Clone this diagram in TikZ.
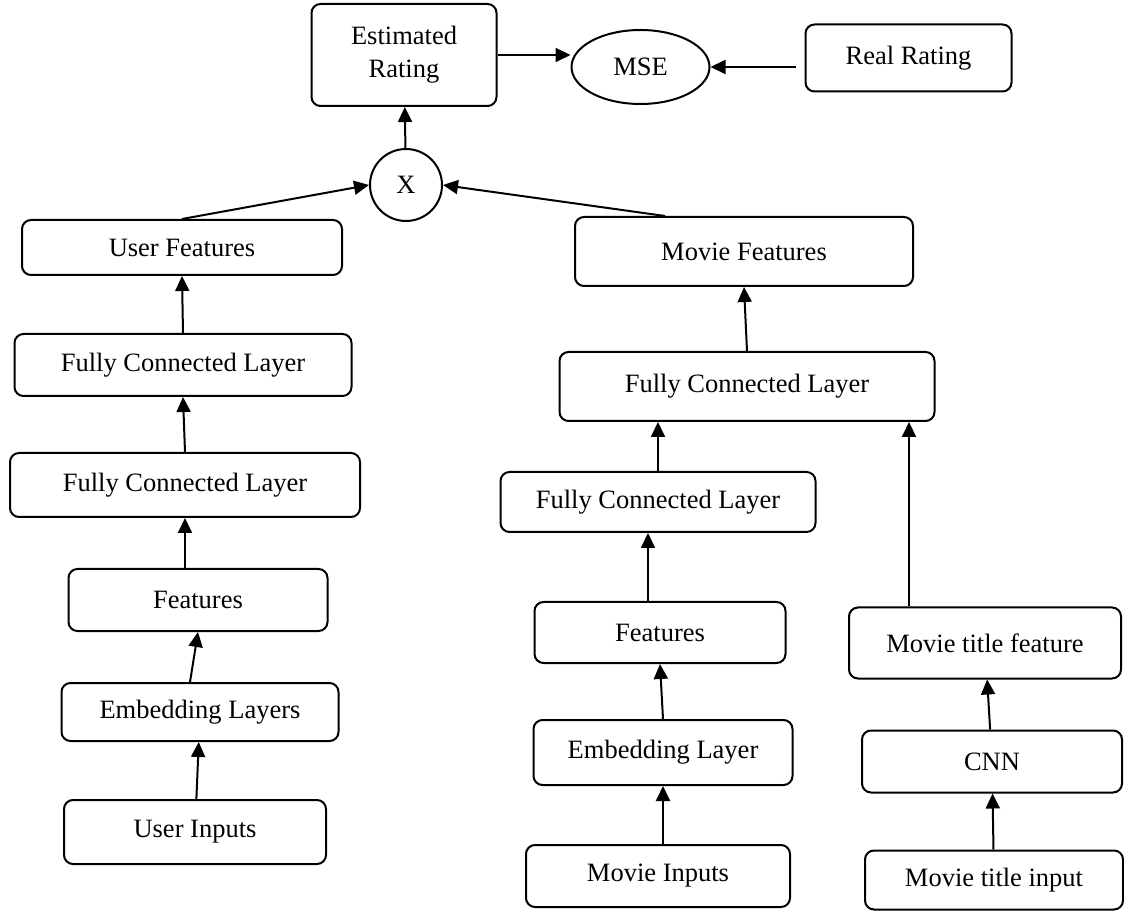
\documentclass[tikz,border=0pt]{standalone}
\usepackage{fontspec}
\setmainfont{Liberation Serif}
\usetikzlibrary{shapes, positioning, arrows.meta}
\tikzset{>={Triangle[width=14pt,length=15pt]}}
\tikzset{blk/.style = {draw, rounded corners = 9pt, line width = 2pt, inner sep = 0pt}}
\tikzset{lnk/.style = {->, line width = 2pt}}

\begin{document}
\begin{tikzpicture}[x = 1pt, y = 1pt]
\fontsize{26.5}{33}\selectfont
\useasboundingbox (0, 0) rectangle (1124, 911);

% user branch
\node (uinp) [blk, minimum width = 262pt, minimum height = 64pt] at (195, 79) {User Inputs};
\node (uemb) [blk, minimum width = 277pt, minimum height = 58pt, above = 57pt of uinp, xshift = 5pt] {Embedding Layers};
\node (ufeat) [blk, minimum width = 259pt, minimum height = 62pt, above = 50pt of uemb, xshift = -2pt] {Features};
\node (ufc2) [blk, minimum width = 350pt, minimum height = 64pt, above = 50pt of ufeat, xshift = -13pt] {Fully Connected Layer};
\node (ufc1) [blk, minimum width = 337pt, minimum height = 62pt, above = 55pt of ufc2, xshift = -2pt] {Fully Connected Layer};
\node (uout) [blk, minimum width = 320pt, minimum height = 55pt, above = 57pt of ufc1, xshift = -1pt] {User Features};

% movie branch
\node (minp) [blk, minimum width = 264pt, minimum height = 62pt] at (658, 35) {Movie Inputs};
\node (memb) [blk, minimum width = 259pt, minimum height = 65pt, above = 58pt of minp, xshift = 5pt] {Embedding Layer};
\node (mfeat) [blk, minimum width = 251pt, minimum height = 61pt, above = 55pt of memb, xshift = -3pt] {Features};
\node (mfc2) [blk, minimum width = 315pt, minimum height = 60pt, above = 68pt of mfeat, xshift = -2pt] {Fully Connected Layer};
\node (mfc1) [blk, minimum width = 375pt, minimum height = 69pt, above = 49pt of mfc2, xshift = 89pt] {Fully Connected Layer};
\node (mout) [blk, minimum width = 338pt, minimum height = 69pt, above = 64pt of mfc1, xshift = -3pt] {Movie Features};

% title branch
\node (tinp) [blk, minimum width = 258pt, minimum height = 59pt] at (994, 31) {Movie title input};
\node (cnn) [blk, minimum width = 260pt, minimum height = 62pt, above = 56pt of tinp, xshift = -2pt] {CNN};
\node (tfeat) [blk, minimum width = 272pt, minimum height = 71pt, above = 50pt of cnn, xshift = -7pt] {Movie title feature};

% output
\node (mult) [circle, draw, line width = 2pt, minimum size = 72pt, inner sep = 0pt] at (406, 726) {X};
\node (est) [blk, minimum width = 185pt, minimum height = 102pt, align = center, above = 41pt of mult, xshift = -2pt] {Estimated\\Rating};
\node (mse) [ellipse, draw, line width = 2pt, minimum width = 138pt, minimum height = 74pt, inner sep = 0pt, right = 73pt of est, yshift = -12pt] {MSE};
\node (real) [blk, minimum width = 206pt, minimum height = 67pt, right = 94pt of mse, yshift = 9pt] {Real Rating};

\draw[lnk] (uinp) to (uemb);
\draw[lnk] ([xshift = -10pt] uemb.north) to (ufeat.south);
\draw[lnk] ([xshift = -13pt] ufeat.north) to (ufc2.south);
\draw[lnk] (ufc2.north) to (ufc1.south);
\draw[lnk] (ufc1.north) to (uout.south);
\draw[lnk] (uout.north) to (mult.west);

\draw[lnk] (memb.south |- minp.north) to (memb.south);
\draw[lnk] (memb.north) to (mfeat.south);
\draw[lnk] ([xshift = -12pt] mfeat.north) to ([xshift = -10pt] mfc2.south);
\draw[lnk] (mfc2.north) to (mfc2.north |- mfc1.south);
\draw[lnk] (mfc1.north) to (mout.south);
\draw[lnk] ([xshift = -79pt] mout.north) to (mult.east);

\draw[lnk] (tinp) to (cnn);
\draw[lnk] (cnn) to (tfeat);
\draw[lnk] ([xshift = -76pt] tfeat.north) to ([xshift = -76pt] tfeat.north |- mfc1.south);

\draw[lnk] (mult) to (est);
\draw[lnk] (est.east) to (est.east -| mse.west);
\draw[lnk, shorten <= 9pt] (mse.east -| real.west) to (mse.east);

\end{tikzpicture}
\end{document}
